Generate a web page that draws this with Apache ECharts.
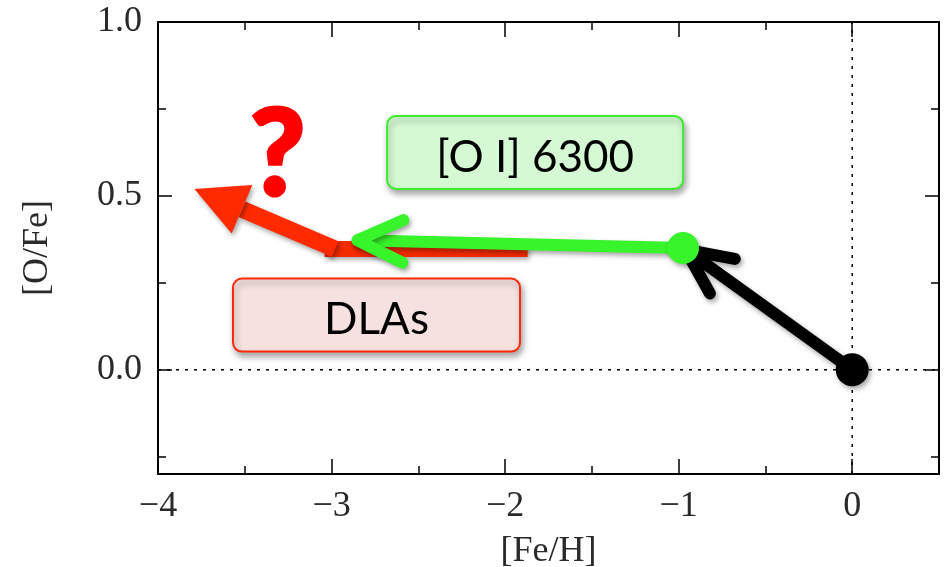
<!DOCTYPE html>
<html><head><meta charset="utf-8">
<script src="https://cdn.jsdelivr.net/npm/echarts@6/dist/echarts.min.js"></script>
<style>html,body{margin:0;padding:0;background:#fff}#c{width:950px;height:567px}</style>
</head><body><div id="c"></div>
<script>
// ---- data ----
const xMajorTicks = [-4, -3, -2, -1, 0];
const xMinorTicks = [-3.5, -2.5, -1.5, -0.5];
const yMajorTicks = [0, 0.5, 1.0];
const yMinorTicks = [-0.25, 0.25, 0.75];
const xTickLabels = ['−4', '−3', '−2', '−1', '0'];
const yTickLabels = ['0.0', '0.5', '1.0'];
const xRange = [-4, 0.5];
const yRange = [-0.3, 1.0];
const zeroLineH = [[-4, 0], [0.5, 0]];
const zeroLineV = [[0, -0.3], [0, 1.0]];
const blackDot = [[0, 0]];
const greenDot = [[-0.975, 0.35]];
const blackArrow = [[0, 0, -0.96, 0.345]];        // start x,y -> tip x,y
const greenArrow = [[-0.975, 0.35, -2.85, 0.372]];
const redBar = [[-3.04, 0.347, -1.87, 0.347]];
const redArrow = [[-2.98, 0.347, -3.79, 0.52]];
const boxLabels = ['[O I] 6300', 'DLAs'];
const boxX = [-1.827, -2.741];
const boxY = [0.625, 0.157];
const markText = ['?'];
const markX = [-3.31];
const markY = [0.632];

// ---- styles ----
const FONT = 'Liberation Serif';
const SH = {shadowBlur: 5, shadowOffsetX: 2, shadowOffsetY: 3, shadowColor: 'rgba(0,0,0,0.35)'};
const boxStyles = [
  {w: 296, h: 73, fill: '#d5f9d3', stroke: '#3ced2c'},
  {w: 287, h: 73, fill: '#f5e1e0', stroke: '#ff2a0a'}
];
const gridRect = {left: 158, right: 11, top: 22, bottom: 93, outerBoundsMode: 'none', containLabel: false};

function xAxisCfg(grid, pos, ticks, len, line, labels) {
  return {
    type: 'value', gridIndex: grid, position: pos, min: xRange[0], max: xRange[1],
    axisLine: {show: line, onZero: false, lineStyle: {color: '#000', width: 2}},
    axisTick: {show: true, inside: true, length: len, customValues: ticks, lineStyle: {color: '#000', width: 1.5}},
    axisLabel: labels ? {show: true, customValues: xMajorTicks, margin: 15,
      formatter: v => xTickLabels[xMajorTicks.indexOf(v)] ?? '',
      fontFamily: FONT, fontSize: 36, color: '#2a2a2a'} : {show: false},
    splitLine: {show: false},
    name: labels ? '[Fe/H]' : '', nameLocation: 'middle', nameGap: 60,
    nameTextStyle: {fontFamily: FONT, fontSize: 36, color: '#2a2a2a'}
  };
}
function yAxisCfg(grid, pos, ticks, len, line, labels) {
  return {
    type: 'value', gridIndex: grid, position: pos, min: yRange[0], max: yRange[1],
    axisLine: {show: line, onZero: false, lineStyle: {color: '#000', width: 2}},
    axisTick: {show: true, inside: true, length: len, customValues: ticks, lineStyle: {color: '#000', width: 1.5}},
    axisLabel: labels ? {show: true, customValues: yMajorTicks, margin: 16,
      formatter: v => yTickLabels[yMajorTicks.indexOf(v)] ?? '',
      fontFamily: FONT, fontSize: 36, color: '#2a2a2a'} : {show: false},
    splitLine: {show: false},
    name: labels ? '[O/Fe]' : '', nameLocation: 'middle', nameGap: 102,
    nameTextStyle: {fontFamily: FONT, fontSize: 36, color: '#2a2a2a'}
  };
}

function chevronArrow(data, color, width, L, a) {
  return {
    type: 'custom', xAxisIndex: 0, yAxisIndex: 0, data: data, silent: true,
    renderItem: (params, api) => {
      const p0 = api.coord([api.value(0), api.value(1)]);
      const p1 = api.coord([api.value(2), api.value(3)]);
      const ang = Math.atan2(p0[1] - p1[1], p0[0] - p1[0]);
      const w1 = [p1[0] + L * Math.cos(ang + a), p1[1] + L * Math.sin(ang + a)];
      const w2 = [p1[0] + L * Math.cos(ang - a), p1[1] + L * Math.sin(ang - a)];
      const st = Object.assign({stroke: color, lineWidth: width, lineCap: 'round', lineJoin: 'round', fill: null}, SH);
      return {type: 'group', children: [
        {type: 'polyline', shape: {points: [p0, p1]}, style: st},
        {type: 'polyline', shape: {points: [w1, p1, w2]}, style: st}
      ]};
    }
  };
}

const series = [];
// dotted zero lines
series.push({type: 'line', xAxisIndex: 0, yAxisIndex: 0, data: zeroLineH, symbol: 'none', silent: true,
  lineStyle: {color: '#000', width: 1.5, type: [3, 6]}});
series.push({type: 'line', xAxisIndex: 0, yAxisIndex: 0, data: zeroLineV, symbol: 'none', silent: true,
  lineStyle: {color: '#000', width: 1.5, type: [3, 6]}});
// boxes
series.push({
  type: 'custom', xAxisIndex: 0, yAxisIndex: 0, silent: true,
  data: boxLabels.map((t, i) => [boxX[i], boxY[i], i]),
  renderItem: (params, api) => {
    const i = api.value(2);
    const c = api.coord([api.value(0), api.value(1)]);
    const s = boxStyles[i];
    return {type: 'group', children: [
      {type: 'rect', shape: {x: c[0] - s.w / 2, y: c[1] - s.h / 2, width: s.w, height: s.h, r: 9},
        style: Object.assign({fill: s.fill, stroke: s.stroke, lineWidth: 2}, {shadowBlur: 6, shadowOffsetX: 2, shadowOffsetY: 4, shadowColor: 'rgba(0,0,0,0.35)'})},
      {type: 'text', x: c[0], y: c[1] + 5,
        style: {text: boxLabels[i], fontFamily: 'Lato', fontSize: 44, fill: '#000', align: 'center', verticalAlign: 'middle'}}
    ]};
  }
});
// question mark
series.push({
  type: 'custom', xAxisIndex: 0, yAxisIndex: 0, silent: true,
  data: markText.map((t, i) => [markX[i], markY[i], i]),
  renderItem: (params, api) => {
    const c = api.coord([api.value(0), api.value(1)]);
    return {type: 'text', x: c[0], y: c[1] + 6,
      style: {text: markText[api.value(2)], fontFamily: 'Lato', fontWeight: 900, fontSize: 120,
        fill: '#ff0000', stroke: '#ff0000', lineWidth: 3, align: 'center', verticalAlign: 'middle'}};
  }
});
// red bar
series.push({
  type: 'custom', xAxisIndex: 0, yAxisIndex: 0, silent: true, data: redBar,
  renderItem: (params, api) => {
    const p0 = api.coord([api.value(0), api.value(1)]);
    const p1 = api.coord([api.value(2), api.value(3)]);
    return {type: 'polyline', shape: {points: [p0, p1]},
      style: Object.assign({stroke: '#f42a00', lineWidth: 16, lineCap: 'butt', fill: null}, SH)};
  }
});
// red filled arrow
series.push({
  type: 'custom', xAxisIndex: 0, yAxisIndex: 0, silent: true, data: redArrow,
  renderItem: (params, api) => {
    const p0 = api.coord([api.value(0), api.value(1)]);
    const p1 = api.coord([api.value(2), api.value(3)]);
    const ang = Math.atan2(p0[1] - p1[1], p0[0] - p1[0]);
    const L = 58, a = 0.47;
    const c1 = [p1[0] + L * Math.cos(ang + a), p1[1] + L * Math.sin(ang + a)];
    const c2 = [p1[0] + L * Math.cos(ang - a), p1[1] + L * Math.sin(ang - a)];
    const bm = [(c1[0] + c2[0]) / 2, (c1[1] + c2[1]) / 2];
    return {type: 'group', children: [
      {type: 'polyline', shape: {points: [p0, bm]}, style: Object.assign({stroke: '#ff2a00', lineWidth: 17, lineCap: 'butt', fill: null}, SH)},
      {type: 'polygon', shape: {points: [p1, c1, c2]}, style: Object.assign({fill: '#ff2a00'}, SH)}
    ]};
  }
});
// green arrow + dot
series.push(chevronArrow(greenArrow, '#38f42a', 12, 50, 0.44));
series.push({type: 'scatter', xAxisIndex: 0, yAxisIndex: 0, data: greenDot, symbolSize: 32, silent: true,
  itemStyle: Object.assign({color: '#38f42a', opacity: 1}, SH)});
// black arrow + dot
series.push(chevronArrow(blackArrow, '#000000', 12, 50, 0.44));
series.push({type: 'scatter', xAxisIndex: 0, yAxisIndex: 0, data: blackDot, symbolSize: 33, silent: true,
  itemStyle: Object.assign({color: '#000', opacity: 1}, SH)});

const chart = echarts.init(document.getElementById('c'), null, {renderer: 'canvas'});
chart.setOption({
  animation: false,
  backgroundColor: '#fff',
  grid: [Object.assign({}, gridRect), Object.assign({}, gridRect)],
  xAxis: [
    xAxisCfg(0, 'bottom', xMajorTicks, 15, true, true),
    xAxisCfg(0, 'top', xMajorTicks, 15, true, false),
    xAxisCfg(1, 'bottom', xMinorTicks, 8, false, false),
    xAxisCfg(1, 'top', xMinorTicks, 8, false, false)
  ],
  yAxis: [
    yAxisCfg(0, 'left', yMajorTicks, 14, true, true),
    yAxisCfg(0, 'right', yMajorTicks, 14, true, false),
    yAxisCfg(1, 'left', yMinorTicks, 8, false, false),
    yAxisCfg(1, 'right', yMinorTicks, 8, false, false)
  ],
  series: series
});
</script></body></html>
